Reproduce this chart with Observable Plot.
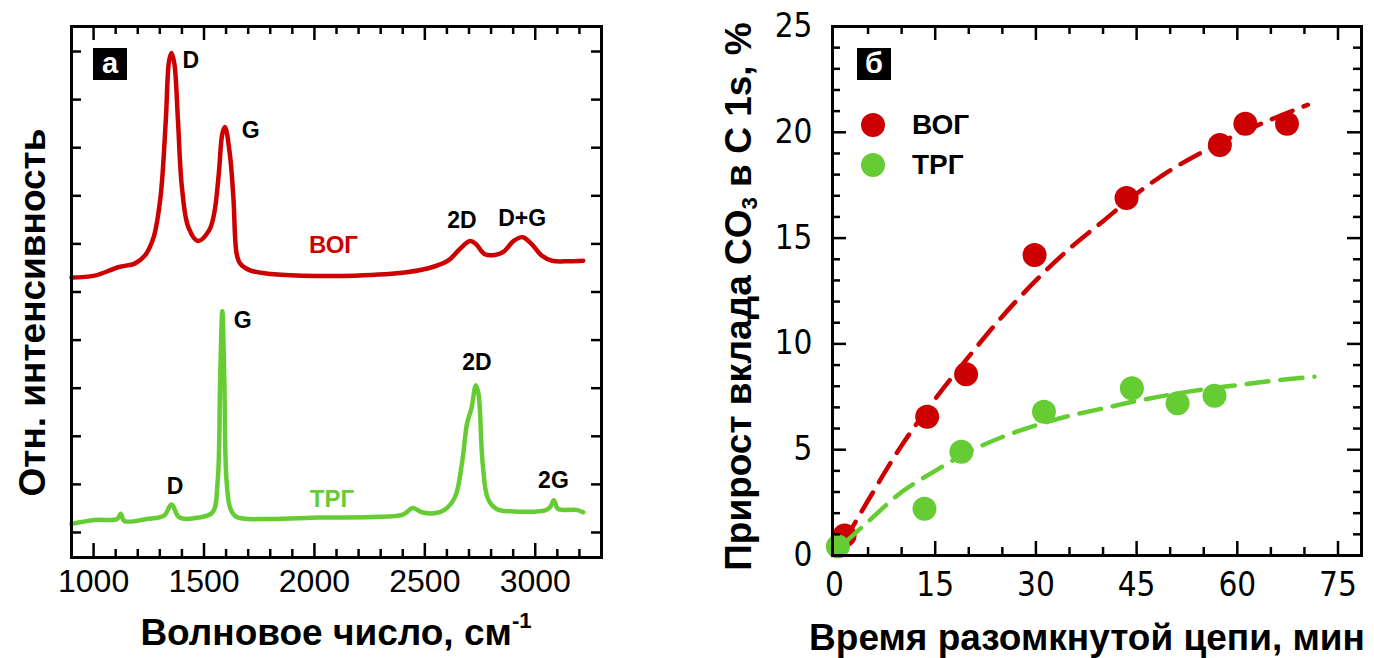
<!DOCTYPE html>
<html>
<head>
<meta charset="utf-8">
<script src="https://cdn.jsdelivr.net/npm/d3@7"></script>
<script src="https://cdn.jsdelivr.net/npm/@observablehq/plot@0.6"></script>
<style>
  body { margin: 0; background: #fff; }
  #wrap { position: relative; width: 1374px; height: 658px; overflow: hidden; font-family: "Liberation Sans", Arial, sans-serif; color: #000; }
  #left, #right { position: absolute; top: 0; }
  #left { left: 0; }
  #right { left: 640px; }
  .title { position: absolute; font-weight: bold; font-size: 37px; white-space: nowrap; line-height: 1; }
  .rot { text-align: center; transform: rotate(-90deg); }
  .box { position: absolute; background: #000; color: #fff; font-weight: bold; font-size: 29px; text-align: center; line-height: 30px; }
  .dot { position: absolute; width: 24px; height: 24px; border-radius: 50%; }
  .legtext { position: absolute; font-weight: bold; font-size: 28px; line-height: 1; }
  sup { font-size: 0.6em; vertical-align: 0.75em; line-height: 0; }
  sub { font-size: 0.6em; vertical-align: -0.3em; line-height: 0; }
</style>
</head>
<body>
<div id="wrap">
  <div id="left"></div>
  <div id="right"></div>
</div>
<script>
// ---------- Panel а: Raman spectra ----------
const bogWavenumber = [900,1005,1115,1186,1233,1272,1303,1327,1342,1353,1366,1382,1400,1429,1473,1523,1546,1567,1583,1595,1617,1633,1648,1664,1703,1790,1947,2182,2417,2543,2605,2660,2705,2731,2770,2817,2857,2904,2943,2983,3029,3076,3155,3217];
const bogIntensity = [5.30,5.34,5.52,5.59,5.76,6.14,6.97,8.57,9.81,9.97,9.74,8.57,7.18,6.35,6.06,6.28,6.63,7.46,8.29,8.43,7.87,6.97,5.79,5.59,5.46,5.38,5.34,5.34,5.41,5.53,5.65,5.90,6.06,6.00,5.79,5.77,5.84,6.07,6.14,6.00,5.76,5.65,5.64,5.65];

const trgWavenumber = [900,1005,1107,1123,1139,1240,1319,1353,1389,1476,1539,1562,1573,1583,1592,1602,1620,1648,1790,2025,2260,2401,2445,2487,2542,2589,2636,2668,2691,2712,2731,2743,2762,2786,2825,2888,3045,3068,3084,3103,3155,3186,3217];
const trgIntensity = [0.18,0.26,0.28,0.39,0.24,0.28,0.35,0.58,0.31,0.31,0.42,1.08,3.16,4.60,3.16,1.08,0.49,0.32,0.28,0.31,0.32,0.37,0.51,0.42,0.40,0.47,0.73,1.43,2.26,2.60,3.06,2.88,1.43,0.70,0.49,0.44,0.46,0.53,0.67,0.49,0.47,0.47,0.42];

const peakLabels = ["D","G","2D","D+G","ВОГ","G","2D","D","ТРГ","2G"];
const peakLabelWavenumber = [1403,1671,2601,2832,1975,1635,2669,1331,1979,3013];
const peakLabelIntensity = [9.81,8.36,6.49,6.53,5.97,4.41,3.53,0.96,0.69,1.08];
const peakLabelSeries = ["BOG","BOG","BOG","BOG","BOGname","TRG","TRG","TRG","TRGname","TRG"];

const wnTickLabels = [1000,1500,2000,2500,3000];
const wnMinorTicks = [1100,1200,1300,1400,1600,1700,1800,1900,2100,2200,2300,2400,2600,2700,2800,2900,3100,3200];
const intensityTicks = [0,1,2,3,4,5,6,7,8,9,10];

// ---------- Panel б: CO3 contribution ----------
const timeBOG = [1.5,13.8,19.6,29.8,43.5,57.4,61.2,67.4];
const valueBOG = [0.95,6.56,8.56,14.2,16.9,19.4,20.4,20.4];
const timeTRG = [0.5,13.4,18.9,31.2,44.3,51.1,56.6];
const valueTRG = [0.43,2.21,4.90,6.79,7.90,7.19,7.55];

const fitTimeBOG = [1.5,5,10,15,20,25,30,35,40,45,50,55,60,65,70.5];
const fitValueBOG = [0.7,2.6,5.2,7.4,9.4,11.3,13.0,14.5,15.8,17.1,18.2,19.1,19.9,20.6,21.3];
const fitTimeTRG = [1.5,5,10,15,20,25,30,35,40,45,50,55,60,65,71.5];
const fitValueTRG = [0.6,1.6,3.0,4.0,4.9,5.6,6.15,6.6,6.95,7.3,7.6,7.85,8.05,8.25,8.45];

const timeTickLabels = [0,15,30,45,60,75];
const timeMinorTicks = [5,10,20,25,35,40,50,55,65,70];
const valueTickLabels = [0,5,10,15,20,25];
const valueMajorTicks = [5,10,15,20];
const valueMinorTicks = [1,2,3,4,6,7,8,9,11,12,13,14,16,17,18,19,21,22,23,24];

const RED = "#cc0000", GREEN = "#66cc33";
const zip = (xs, ys) => xs.map((x, i) => ({x, y: ys[i]}));

// ---- left plot ----
const L = {w: 640, h: 658, ml: 71, mr: 39, mt: 26, mb: 101};
const LiH = L.h - L.mt - L.mb, LiW = L.w - L.ml - L.mr;
const peakData = peakLabels.map((t, i) => ({t, x: peakLabelWavenumber[i], y: peakLabelIntensity[i], s: peakLabelSeries[i]}));
const peakColor = {BOG: "#000", TRG: "#000", BOGname: RED, TRGname: GREEN};

const leftPlot = Plot.plot({
  width: L.w, height: L.h,
  marginLeft: L.ml, marginRight: L.mr, marginTop: L.mt, marginBottom: L.mb,
  x: {domain: [900, 3300]},
  y: {domain: [-0.52, 10.52], axis: null},
  style: {fontFamily: "'Liberation Sans', Arial, sans-serif", background: "transparent", overflow: "visible"},
  marks: [
    Plot.line(zip(bogWavenumber, bogIntensity), {x: "x", y: "y", stroke: RED, strokeWidth: 4.5, curve: "catmull-rom"}),
    Plot.line(zip(trgWavenumber, trgIntensity), {x: "x", y: "y", stroke: GREEN, strokeWidth: 4.5, curve: "catmull-rom"}),
    Plot.text(peakData, {x: "x", y: "y", text: "t", textAnchor: "start", lineAnchor: "middle",
      fill: d => peakColor[d.s], fontWeight: "bold", fontSize: d => (d.s.endsWith("name") ? 24 : 23)}),
    // ticks (inward, all four sides)
    Plot.tickX(wnMinorTicks, {x: d => d, insetTop: LiH - 8, strokeWidth: 2.5}),
    Plot.tickX(wnMinorTicks, {x: d => d, insetBottom: LiH - 8, strokeWidth: 2.5}),
    Plot.tickX(wnTickLabels, {x: d => d, insetTop: LiH - 14, strokeWidth: 2.5}),
    Plot.tickX(wnTickLabels, {x: d => d, insetBottom: LiH - 14, strokeWidth: 2.5}),
    Plot.tickY(intensityTicks, {y: d => d, insetRight: LiW - 10, strokeWidth: 2.5}),
    Plot.tickY(intensityTicks, {y: d => d, insetLeft: LiW - 10, strokeWidth: 2.5}),
    Plot.axisX(wnTickLabels, {anchor: "bottom", tickSize: 0, tickPadding: 12, fontSize: 32, tickFormat: d => String(d), label: null}),
    Plot.frame({stroke: "#000", strokeWidth: 3})
  ]
});
document.getElementById("left").appendChild(leftPlot);

// ---- right plot ----
const R = {w: 734, h: 658, ml: 192, mr: 13, mt: 26, mb: 103};
const RiH = R.h - R.mt - R.mb, RiW = R.w - R.ml - R.mr;
const narrow = "'Liberation Sans Narrow', 'DejaVu Sans Condensed', 'Liberation Sans', Arial, sans-serif";

const rightPlot = Plot.plot({
  width: R.w, height: R.h,
  marginLeft: R.ml, marginRight: R.mr, marginTop: R.mt, marginBottom: R.mb,
  x: {domain: [-0.3, 78.5]},
  y: {domain: [0, 25]},
  style: {fontFamily: "'Liberation Sans', Arial, sans-serif", background: "transparent", overflow: "visible"},
  marks: [
    Plot.dot(zip(timeBOG, valueBOG), {x: "x", y: "y", r: 12, fill: RED}),
    Plot.line(zip(fitTimeBOG, fitValueBOG), {x: "x", y: "y", stroke: RED, strokeWidth: 4.5, strokeDasharray: "22,12", curve: "catmull-rom"}),
    Plot.dot(zip(timeTRG, valueTRG), {x: "x", y: "y", r: 12, fill: GREEN}),
    Plot.line(zip(fitTimeTRG, fitValueTRG), {x: "x", y: "y", stroke: GREEN, strokeWidth: 4.5, strokeDasharray: "22,12", curve: "catmull-rom"}),
    // ticks
    Plot.tickX(timeMinorTicks, {x: d => d, insetTop: RiH - 8, strokeWidth: 2.5}),
    Plot.tickX(timeMinorTicks, {x: d => d, insetBottom: RiH - 8, strokeWidth: 2.5}),
    Plot.tickX(timeTickLabels.slice(1), {x: d => d, insetTop: RiH - 14, strokeWidth: 2.5}),
    Plot.tickX(timeTickLabels.slice(1), {x: d => d, insetBottom: RiH - 14, strokeWidth: 2.5}),
    Plot.tickY(valueMinorTicks, {y: d => d, insetRight: RiW - 8, strokeWidth: 2.5}),
    Plot.tickY(valueMinorTicks, {y: d => d, insetLeft: RiW - 8, strokeWidth: 2.5}),
    Plot.tickY(valueMajorTicks, {y: d => d, insetRight: RiW - 14, strokeWidth: 2.5}),
    Plot.tickY(valueMajorTicks, {y: d => d, insetLeft: RiW - 14, strokeWidth: 2.5}),
    Plot.axisX(timeTickLabels, {anchor: "bottom", tickSize: 0, tickPadding: 17, fontSize: 33, fontFamily: narrow, tickFormat: d => String(d), label: null}),
    Plot.axisY(valueTickLabels, {anchor: "left", tickSize: 0, tickPadding: 20, fontSize: 33, fontFamily: narrow, tickFormat: d => String(d), label: null}),
    Plot.frame({stroke: "#000", strokeWidth: 3})
  ]
});
document.getElementById("right").appendChild(rightPlot);

// ---- titles, panel labels, legend (HTML) ----
const wrap = document.getElementById("wrap");
function add(html, cls, css) {
  const d = document.createElement("div");
  d.className = cls;
  d.innerHTML = html;
  Object.assign(d.style, css);
  wrap.appendChild(d);
  return d;
}
add("Волновое число, см<sup>-1</sup>", "title", {left: "71px", width: "530px", textAlign: "center", top: "614px"});
add("Отн. интенсивность", "title rot", {left: (32 - 300) + "px", width: "600px", top: (312 - 18) + "px", height: "37px"});
add("Время разомкнутой цепи, мин", "title", {left: "800px", width: "574px", textAlign: "center", top: "619px"});
add("Прирост вклада CO<sub>3</sub> в C 1s, %", "title rot", {left: (738 - 330) + "px", width: "660px", top: (296 - 18) + "px", height: "37px"});

add("а", "box", {left: "93px", top: "48px", width: "34px", height: "32px"});
add("б", "box", {left: "857px", top: "48px", width: "34px", height: "32px"});

add("", "dot", {left: "861px", top: "113px", background: RED});
add("", "dot", {left: "861px", top: "153px", background: GREEN});
add("ВОГ", "legtext", {left: "912px", top: "111px"});
add("ТРГ", "legtext", {left: "912px", top: "151px"});
</script>
</body>
</html>
